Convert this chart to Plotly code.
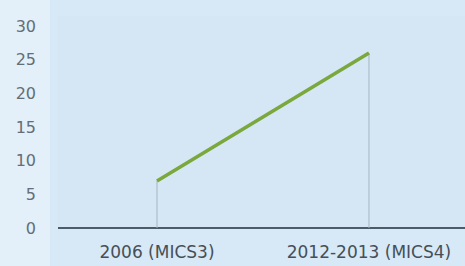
import plotly.graph_objects as go

categories = ["2006 (MICS3)", "2012-2013 (MICS4)"]
values = [7, 26]
y_ticks = [0, 5, 10, 15, 20, 25, 30]

fig = go.Figure()
fig.add_trace(go.Scatter(
    x=categories, y=values, mode="lines",
    line=dict(color="#7aa83c", width=3.5),
    error_y=dict(type="data", symmetric=False, array=[0] * len(values),
                 arrayminus=values, color="#a7b6c0", thickness=1, width=0),
    hoverinfo="skip",
))

fig.add_shape(type="rect", xref="paper", yref="paper",
              x0=-58 / 407, x1=-8 / 407, y0=-38 / 212, y1=1 + 16 / 212,
              fillcolor="#e3f0f9", line=dict(width=0), layer="below")

fig.update_layout(
    width=465, height=266,
    margin=dict(l=58, r=0, t=16, b=38),
    paper_bgcolor="#d7e8f6",
    plot_bgcolor="#d5e7f5",
    showlegend=False,
    font=dict(family="DejaVu Sans, sans-serif", size=17, color="#4a5560"),
)
fig.update_xaxes(
    type="category", range=[-0.467, 1.453],
    showgrid=False, zeroline=False,
    showline=False, ticks="", ticklabelstandoff=12,
    tickfont=dict(size=17, color="#464f57"),
)
fig.update_yaxes(
    range=[0, 31.5], tickvals=y_ticks,
    showgrid=False, zeroline=True, zerolinecolor="#4d5b68", zerolinewidth=2,
    showline=False, ticks="", ticklabelstandoff=21,
    tickfont=dict(size=16, color="#646e76"),
)
fig.write_html("out.html", config={"displayModeBar": False},
               post_script="document.body.style.margin='0';")
